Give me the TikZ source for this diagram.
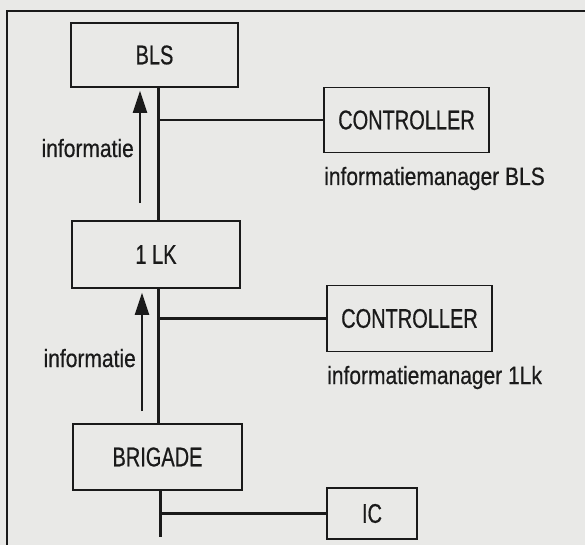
\documentclass[tikz,border=0pt]{standalone}
\usepackage{fontspec}
\setmainfont{Liberation Sans}[FakeStretch=0.84, FakeBold=0.5]
\newfontfamily\boxfont{Liberation Sans}[FakeStretch=0.74, FakeBold=0.6]
\usetikzlibrary{arrows.meta,calc}
\definecolor{paper}{HTML}{E9E9E7}
\definecolor{ink}{HTML}{1A1A1A}
\tikzset{
  unitbox/.style={draw=ink, line width=1.6pt, rectangle, inner sep=0pt,
    font=\boxfont\fontsize{27}{31}\selectfont, text=ink},
  spine/.style={draw=ink, line width=3pt},
  branch/.style={draw=ink, line width=2.6pt},
  infoarrow/.style={draw=ink, line width=2pt,
    -{Triangle[width=14pt,length=22pt]}},
  lbl/.style={font=\fontsize{25}{29}\selectfont, text=ink, inner sep=0pt},
  frame/.style={draw=ink, line width=2pt}
}
\begin{document}
\begin{tikzpicture}[x=1pt,y=-1pt]
  \fill[paper] (0,0) rectangle (585,545);
  \useasboundingbox (0,0) rectangle (585,545);
  % outer frame
  \coordinate (ftr) at (585,11);
  \coordinate (ftl) at (7,11);
  \coordinate (fbl) at (7,545);
  \draw[frame] (ftr) -- (ftl) -- (fbl);
  % boxes
  \node[unitbox, minimum width=167pt, minimum height=64pt] (bls) at (154.5,55) {BLS};
  \node[unitbox, minimum width=165pt, minimum height=65pt] (ctrlA) at (406.5,120) {CONTROLLER};
  \node[unitbox, minimum width=168pt, minimum height=67pt] (lk) at (156,254.5) {1 LK};
  \node[unitbox, minimum width=165pt, minimum height=66pt] (ctrlB) at (409.5,318.5) {CONTROLLER};
  \node[unitbox, minimum width=169pt, minimum height=66pt] (brig) at (157.5,457) {BRIGADE};
  \node[unitbox, minimum width=90pt, minimum height=51pt] (ic) at (372,513.5) {IC};
  % spine coordinates
  \coordinate (sp) at (158.5,0);
  \coordinate (ax) at (140,0);
  \coordinate (bx) at (142,0);
  \coordinate (bend) at (160,537);
  % BLS -- 1LK
  \draw[spine] (bls.south -| sp) -- (lk.north -| sp);
  \draw[branch] (sp |- ctrlA.west) -- (ctrlA.west);
  \draw[infoarrow, shorten <=17pt, shorten >=3pt] (lk.north -| ax) -- (bls.south -| ax);
  % 1LK -- BRIGADE
  \draw[spine] (lk.south -| sp) -- (brig.north -| sp);
  \draw[branch] (sp |- ctrlB.west) -- (ctrlB.west);
  \draw[infoarrow, shorten <=12pt, shorten >=4pt] (brig.north -| bx) -- (lk.south -| bx);
  % BRIGADE -- IC
  \draw[spine] (brig.south -| bend) -- (bend);
  \draw[branch] (bend |- ic.west) -- (ic.west);
  % labels
  \node[lbl, anchor=base east] (infoA) at (134,157) {informatie};
  \node[lbl, anchor=base east] (infoB) at (136,367) {informatie};
  \node[lbl, anchor=base west] (mgrA) at (324,185) {informatiemanager BLS};
  \node[lbl, anchor=base west] (mgrB) at (327,384) {informatiemanager 1Lk};
\end{tikzpicture}
\end{document}
